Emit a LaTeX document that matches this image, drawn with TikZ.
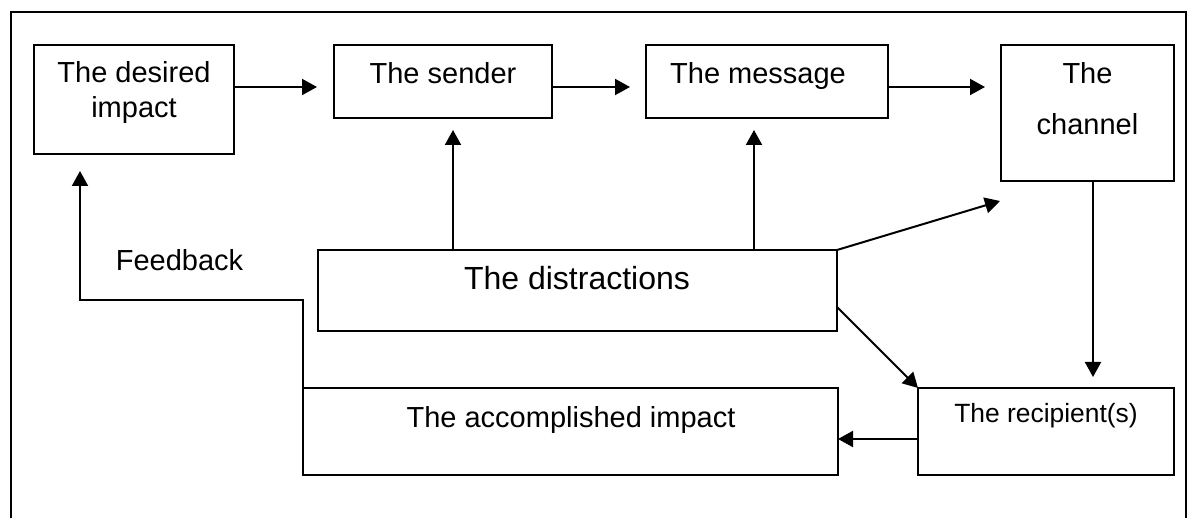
\documentclass[tikz,border=0pt]{standalone}
\usepackage{fontspec}
\setmainfont{Liberation Sans}
\usetikzlibrary{arrows.meta}
\begin{document}
\begin{tikzpicture}[x=1pt,y=-1pt,
  box/.style={draw, line width=1.4pt, inner sep=0pt, outer sep=0pt},
  lbl/.style={anchor=base, inner sep=0pt, outer sep=0pt, font=\fontsize{29}{35}\selectfont},
  arr/.style={line width=2pt, -{Triangle[length=15pt,width=16pt]}}]
\useasboundingbox (0,0) rectangle (1189,518);
% outer frame
\draw[line width=2pt] (11,530) -- (11,12) -- (1186,12) -- (1186,530);
% boxes
\node[box, minimum width=200pt, minimum height=109pt] (desired) at (134,99.5) {};
\node[box, minimum width=218pt, minimum height=73pt] (sender) at (443,81.5) {};
\node[box, minimum width=242pt, minimum height=73pt] (message) at (767,81.5) {};
\node[box, minimum width=173pt, minimum height=136pt] (channel) at (1087.5,113) {};
\node[box, minimum width=519pt, minimum height=81pt] (distr) at (577.5,290.5) {};
\node[box, minimum width=535pt, minimum height=87pt] (acc) at (570.5,431.5) {};
\node[box, minimum width=256pt, minimum height=87pt] (recip) at (1046,431.5) {};
% texts
\node[lbl] (desiredA) at (134,82.7) {The desired};
\node[lbl] (desiredB) at (134,117.5) {impact};
\node[lbl] (senderT) at (443,83.3) {The sender};
\node[lbl] (messageT) at (758,83.3) {The message};
\node[lbl] (channelA) at (1087.5,83.3) {The};
\node[lbl] (channelB) at (1087.5,135) {channel};
\node[lbl, font=\fontsize{32}{38}\selectfont] (distrT) at (577,290) {The distractions};
\node[lbl] (accT) at (571,427.7) {The accomplished impact};
\node[lbl, font=\fontsize{26.4}{32}\selectfont] (recipT) at (1046,422.7) {The recipient(s)};
\node[lbl] (fb) at (179.5,271) {Feedback};
% connectors
\draw[arr] ([yshift=12.5pt]desired.east) -- ([xshift=-17pt,yshift=-5.5pt]sender.west);
\draw[arr] ([yshift=-5.5pt]sender.east) -- ([xshift=-16pt,yshift=-5.5pt]message.west);
\draw[arr] ([yshift=-5.5pt]message.east) -- ([xshift=-16pt,yshift=26pt]channel.west);
\draw[arr] ([xshift=5.5pt]channel.south) -- ([xshift=47pt,yshift=11pt]recip.north);
\draw[arr] ([yshift=-7.5pt]recip.west) -- ([yshift=-7.5pt]acc.east);
\draw[arr] ([xshift=-124.5pt]distr.north) -- ([xshift=10pt,yshift=-12pt]sender.south);
\draw[arr] ([xshift=176.5pt]distr.north) -- ([xshift=-13pt,yshift=-12pt]message.south);
\draw[arr] (distr.north east) -- ([xshift=-1pt,yshift=-20pt]channel.south west);
\draw[arr] ([yshift=-16.5pt]distr.east) -- (recip.north west);
\draw[arr] ([yshift=-42pt]acc.north west) -- ++(0,-130) -| ([xshift=-54pt,yshift=-17pt]desired.south);
\end{tikzpicture}
\end{document}
